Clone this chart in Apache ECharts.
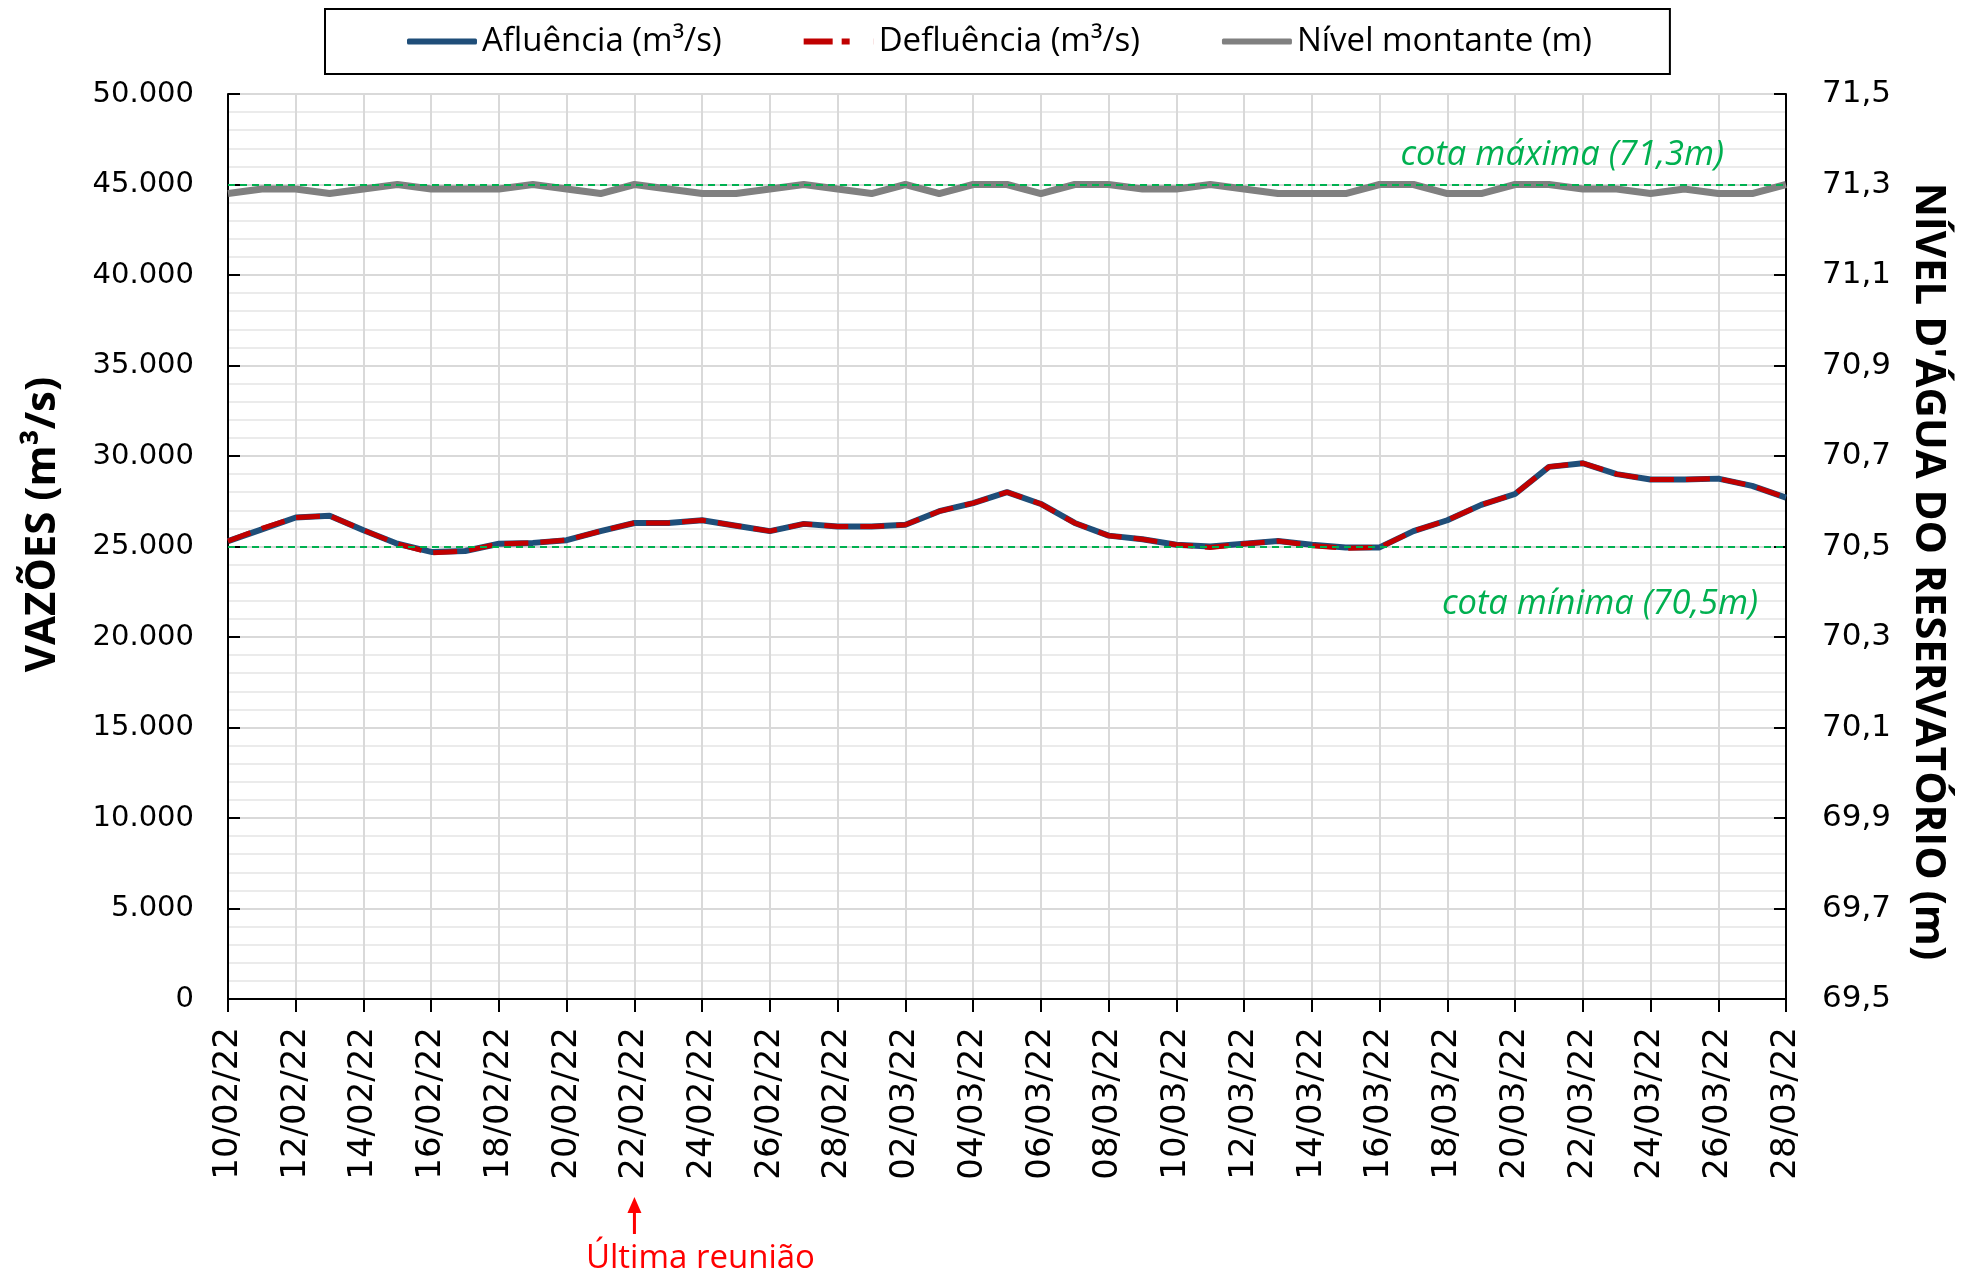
<!DOCTYPE html>
<html lang="pt">
<head>
<meta charset="UTF-8">
<title>Vazões e nível do reservatório</title>
<script src="https://cdn.jsdelivr.net/npm/echarts@6/dist/echarts.min.js"></script>
<style>
  html, body { margin: 0; padding: 0; background: #fff; }
  #main { width: 1962px; height: 1272px; }
</style>
</head>
<body>
<div id="main"></div>
<script>
// dados
var dias = [
  '10/02/22','11/02/22','12/02/22','13/02/22','14/02/22','15/02/22','16/02/22','17/02/22',
  '18/02/22','19/02/22','20/02/22','21/02/22','22/02/22','23/02/22','24/02/22','25/02/22',
  '26/02/22','27/02/22','28/02/22','01/03/22','02/03/22','03/03/22','04/03/22','05/03/22',
  '06/03/22','07/03/22','08/03/22','09/03/22','10/03/22','11/03/22','12/03/22','13/03/22',
  '14/03/22','15/03/22','16/03/22','17/03/22','18/03/22','19/03/22','20/03/22','21/03/22',
  '22/03/22','23/03/22','24/03/22','25/03/22','26/03/22','27/03/22','28/03/22'
];
var afluencia = [
  25300, 25950, 26600, 26700, 25900, 25150, 24700, 24750, 25150, 25200,
  25350, 25850, 26300, 26300, 26450, 26150, 25850, 26250, 26100, 26100,
  26200, 26950, 27400, 28000, 27350, 26300, 25600, 25400, 25100, 25000,
  25150, 25300, 25100, 24950, 24950, 25850, 26450, 27300, 27900, 29400,
  29600, 29000, 28700, 28700, 28750, 28350, 27700
];
var defluencia = [
  25300, 26000, 26600, 26700, 25900, 25150, 24650, 24750, 25150, 25200,
  25350, 25850, 26300, 26300, 26450, 26150, 25850, 26250, 26100, 26100,
  26200, 26950, 27400, 28000, 27350, 26300, 25600, 25400, 25100, 24950,
  25150, 25300, 25050, 24900, 24950, 25850, 26450, 27300, 27900, 29400,
  29600, 29000, 28700, 28700, 28750, 28350, 27700
];
var nivel = [
  71.28, 71.29, 71.29, 71.28, 71.29, 71.30, 71.29, 71.29, 71.29, 71.30,
  71.29, 71.28, 71.30, 71.29, 71.28, 71.28, 71.29, 71.30, 71.29, 71.28,
  71.30, 71.28, 71.30, 71.30, 71.28, 71.30, 71.30, 71.29, 71.29, 71.30,
  71.29, 71.28, 71.28, 71.28, 71.30, 71.30, 71.28, 71.28, 71.30, 71.30,
  71.29, 71.29, 71.28, 71.29, 71.28, 71.28, 71.30
];
var cotaMaxima = 71.3;
var cotaMinima = 70.5;
var ultimaReuniao = '22/02/22';

var myChart = echarts.init(document.getElementById('main'));

function milhar(v) {
  return String(v).replace(/\B(?=(\d{3})+(?!\d))/g, '.');
}
function decimal(v) {
  return v.toFixed(1).replace('.', ',');
}

var verde = '#00b050';
// icone tracejado da legenda: traço + ponto
var iconeTracejado = 'path://M0,0h29v6h-29z M38,0h8v6h-8z M69.9,0h0.1v6h-0.1z';

var option = {
  animation: false,
  backgroundColor: '#fff',
  grid: { left: 228, right: 176, top: 94, bottom: 273 },
  legend: {
    left: 325,
    top: 9,
    padding: [16, 78, 16, 82],
    borderColor: '#000',
    borderWidth: 2,
    itemWidth: 70,
    itemHeight: 6,
    itemGap: 82,
    textStyle: { fontFamily: 'Open Sans', fontSize: 33, color: '#000' },
    data: [
      { name: 'Afluência (m³/s)', icon: 'roundRect' },
      { name: 'Defluência (m³/s)', icon: iconeTracejado },
      { name: 'Nível montante (m)', icon: 'roundRect' }
    ]
  },
  xAxis: {
    type: 'category',
    boundaryGap: false,
    data: dias,
    axisLine: { lineStyle: { color: '#000', width: 2 } },
    axisTick: { interval: 1, length: 13, lineStyle: { color: '#000', width: 2 } },
    axisLabel: {
      interval: 1, rotate: 90, margin: 28,
      fontFamily: 'DejaVu Sans', fontSize: 34, color: '#000'
    },
    splitLine: { show: true, interval: 1, lineStyle: { color: '#d9d9d9', width: 2 } }
  },
  yAxis: [{
    type: 'value',
    min: 0, max: 50000, interval: 5000,
    position: 'left',
    name: 'VAZÕES (m³/s)',
    nameLocation: 'middle',
    nameGap: 164,
    nameRotate: 90,
    nameTextStyle: {
      fontFamily: 'Open Sans', fontWeight: 'bold', fontSize: 42, color: '#000',
      padding: [0, 0, 0, 44]
    },
    axisLine: { show: true, lineStyle: { color: '#000', width: 2 } },
    axisTick: { show: true, inside: true, length: 12, lineStyle: { color: '#000', width: 2 } },
    axisLabel: { margin: 34, fontFamily: 'DejaVu Sans', fontSize: 29, color: '#000', formatter: milhar },
    splitLine: { lineStyle: { color: '#d9d9d9', width: 2 } },
    minorTick: { show: false, splitNumber: 5 },
    minorSplitLine: { show: true, lineStyle: { color: '#ebebeb', width: 2 } }
  }, {
    type: 'value',
    min: 69.5, max: 71.5, interval: 0.2,
    position: 'right',
    name: "NÍVEL D'ÁGUA DO RESERVATÓRIO (m)",
    nameLocation: 'middle',
    nameGap: 121,
    nameRotate: -90,
    nameTextStyle: {
      fontFamily: 'Open Sans', fontWeight: 'bold', fontSize: 42, color: '#000',
      padding: [0, 0, 0, 50]
    },
    axisLine: { show: true, lineStyle: { color: '#000', width: 2 } },
    axisTick: { show: true, inside: true, length: 12, lineStyle: { color: '#000', width: 2 } },
    axisLabel: { margin: 36, fontFamily: 'DejaVu Sans', fontSize: 31, color: '#000', formatter: decimal },
    splitLine: { show: false }
  }],
  series: [
    {
      name: 'Afluência (m³/s)',
      type: 'line',
      data: afluencia,
      symbol: 'none',
      lineStyle: { color: '#1f4e79', width: 6 },
      itemStyle: { color: '#1f4e79' },
      z: 2
    },
    {
      name: 'Defluência (m³/s)',
      type: 'line',
      data: defluencia,
      symbol: 'none',
      lineStyle: { color: '#c00000', width: 5, type: [24, 12] },
      itemStyle: { color: '#c00000' },
      z: 3
    },
    {
      name: 'Nível montante (m)',
      type: 'line',
      yAxisIndex: 1,
      data: nivel,
      symbol: 'none',
      lineStyle: { color: '#808080', width: 7 },
      itemStyle: { color: '#808080' },
      z: 2,
      markLine: {
        silent: true,
        symbol: 'none',
        lineStyle: { color: verde, width: 2, type: [7, 5] },
        label: {
          color: verde, fontStyle: 'italic', fontFamily: 'Open Sans', fontSize: 34.5
        },
        data: [
          {
            yAxis: cotaMaxima,
            label: { formatter: 'cota máxima (71,3m)', position: 'insideEndTop', distance: [62, 12] }
          },
          {
            yAxis: cotaMinima,
            label: { formatter: 'cota mínima (70,5m)', position: 'insideEndBottom', distance: [28, 40] }
          }
        ]
      }
    }
  ]
};

myChart.setOption(option);

// seta da última reunião, posicionada pela categoria do eixo
var px = myChart.convertToPixel({ xAxisIndex: 0 }, ultimaReuniao);
myChart.setOption({
  graphic: [
    { type: 'line', shape: { x1: px, y1: 1210, x2: px, y2: 1234 }, style: { stroke: '#ff0000', lineWidth: 3 } },
    { type: 'polygon', shape: { points: [[px, 1197], [px - 7, 1213], [px + 7, 1213]] }, style: { fill: '#ff0000' } },
    {
      type: 'text', x: px + 66, y: 1259,
      style: {
        text: 'Última reunião', fill: '#ff0000', fontFamily: 'Open Sans', fontSize: 33,
        align: 'center', verticalAlign: 'middle'
      }
    }
  ]
});
</script>
</body>
</html>
